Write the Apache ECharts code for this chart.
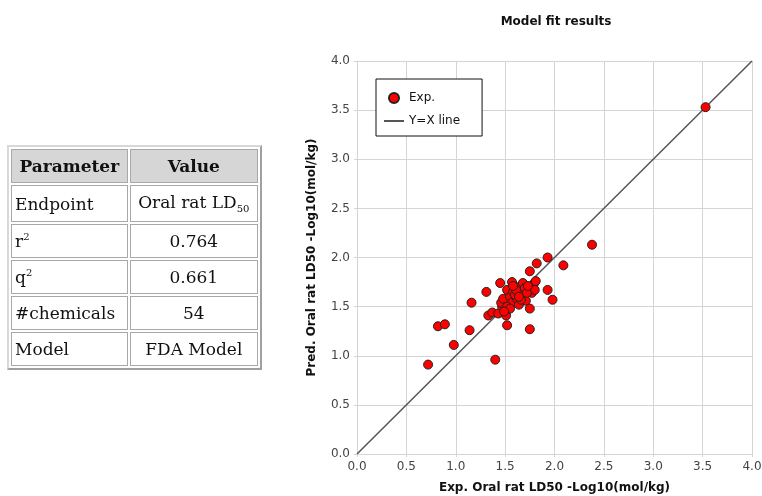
<!DOCTYPE html>
<html>
<head>
<meta charset="utf-8">
<script src="https://cdn.jsdelivr.net/npm/echarts@6/dist/echarts.min.js"></script>
<style>
  html, body { margin: 0; padding: 0; background: #fff; }
  #chart { position: absolute; left: 0; top: 0; width: 762px; height: 496px; }
  #params {
    position: absolute; left: 7px; top: 145px; width: 255px; height: 225px;
    border-collapse: separate; border-spacing: 2px;
    border: 2px solid; border-color: #d8d8d8 #a0a0a0 #a0a0a0 #d8d8d8;
    font-family: "DejaVu Serif", serif; font-size: 17px; color: #111;
  }
  #params td, #params th { border: 1px solid #a8a8a8; padding: 0 3px; white-space: nowrap; }
  #params th { background: #d6d6d6; font-weight: bold; text-align: center; }
  #params td.val { text-align: center; }
  #params sub { font-size: 10px; }
  #params sup { font-size: 10px; }
</style>
</head>
<body>
<div id="chart"></div>
<table id="params"></table>
<script>
// table contents
const paramNames = ['Endpoint', 'r<sup>2</sup>', 'q<sup>2</sup>', '#chemicals', 'Model'];
const paramValues = ['Oral rat LD<sub>50</sub>', '0.764', '0.661', '54', 'FDA Model'];

// scatter: experimental vs predicted
const expX = [0.72, 1.40, 0.98, 0.82, 0.89, 1.14, 1.16, 1.31, 1.33, 1.37,
  1.43, 1.45, 1.52, 1.51, 1.47, 1.46, 1.48, 1.52, 1.57, 1.55,
  1.58, 1.57, 1.52, 1.62, 1.64, 1.64, 1.67, 1.68, 1.69, 1.70,
  1.71, 1.75, 1.75, 1.75, 1.77, 1.79, 1.80, 1.81, 1.82, 1.93,
  1.93, 1.98, 2.09, 2.38, 3.53, 1.60, 1.55, 1.66, 1.72, 1.49,
  1.61, 1.58, 1.73, 1.64];
const predY = [0.91, 0.96, 1.11, 1.30, 1.32, 1.26, 1.54, 1.65, 1.41, 1.44,
  1.43, 1.74, 1.31, 1.41, 1.50, 1.54, 1.58, 1.67, 1.75, 1.60,
  1.65, 1.54, 1.50, 1.58, 1.70, 1.52, 1.63, 1.74, 1.60, 1.69,
  1.56, 1.48, 1.86, 1.27, 1.64, 1.73, 1.67, 1.76, 1.94, 2.00,
  1.67, 1.57, 1.92, 2.13, 3.53, 1.62, 1.48, 1.57, 1.64, 1.45,
  1.67, 1.71, 1.71, 1.60];

// reference line y = x
const lineX = [0, 4];
const lineY = [0, 4];

function buildTable() {
  const table = document.getElementById('params');
  let html = '<tr><th>Parameter</th><th>Value</th></tr>';
  for (let i = 0; i < paramNames.length; i++) {
    html += '<tr><td>' + paramNames[i] + '</td><td class="val">' + paramValues[i] + '</td></tr>';
  }
  table.innerHTML = html;
}

buildTable();

const axisFont = 'DejaVu Sans';
const gridColor = '#d4d4d4';

function valueAxis(name, gap, labelMargin) {
  return {
    type: 'value',
    min: 0,
    max: 4,
    interval: 0.5,
    name: name,
    nameLocation: 'middle',
    nameGap: gap,
    nameTextStyle: { fontFamily: axisFont, fontWeight: 'bold', fontSize: 12, color: '#111' },
    axisLine: { show: true, lineStyle: { color: gridColor } },
    axisTick: { show: true, length: 3, lineStyle: { color: gridColor } },
    splitLine: { show: true, lineStyle: { color: gridColor, width: 1 } },
    axisLabel: {
      fontFamily: axisFont, fontSize: 12, color: '#444', margin: labelMargin,
      formatter: v => v.toFixed(1)
    }
  };
}

const chart = echarts.init(document.getElementById('chart'), null, { renderer: 'canvas' });
chart.setOption({
  animation: false,
  title: {
    text: 'Model fit results',
    left: 551,
    top: 11,
    textAlign: 'center',
    textStyle: { fontFamily: axisFont, fontWeight: 'bold', fontSize: 12, color: '#111' }
  },
  grid: { left: 357, right: 10, top: 61, bottom: 42, containLabel: false, outerBoundsMode: 'none' },
  xAxis: valueAxis('Exp. Oral rat LD50 -Log10(mol/kg)', 28, 7),
  yAxis: valueAxis('Pred. Oral rat LD50 -Log10(mol/kg)', 39, 7),
  legend: {
    orient: 'vertical',
    left: 376,
    top: 79,
    padding: [13, 22, 9, 7],
    itemGap: 11,
    itemWidth: 20,
    itemHeight: 10,
    backgroundColor: '#fff',
    borderColor: '#111',
    borderWidth: 1,
    borderRadius: 0,
    textStyle: { fontFamily: axisFont, fontSize: 12, color: '#111' },
    data: [
      { name: 'Exp.' },
      { name: 'Y=X line', itemStyle: { opacity: 0 } }
    ]
  },
  series: [
    {
      name: 'Y=X line',
      type: 'line',
      symbol: 'none',
      silent: true,
      lineStyle: { color: '#555', width: 1.5 },
      itemStyle: { color: '#555' },
      data: lineX.map((x, i) => [x, lineY[i]]),
      z: 1
    },
    {
      name: 'Exp.',
      type: 'scatter',
      symbol: 'circle',
      symbolSize: 9,
      itemStyle: { color: '#ff0000', opacity: 1, borderColor: '#222', borderWidth: 1 },
      data: expX.map((x, i) => [x, predY[i]]),
      z: 3
    }
  ]
});
</script>
</body>
</html>
